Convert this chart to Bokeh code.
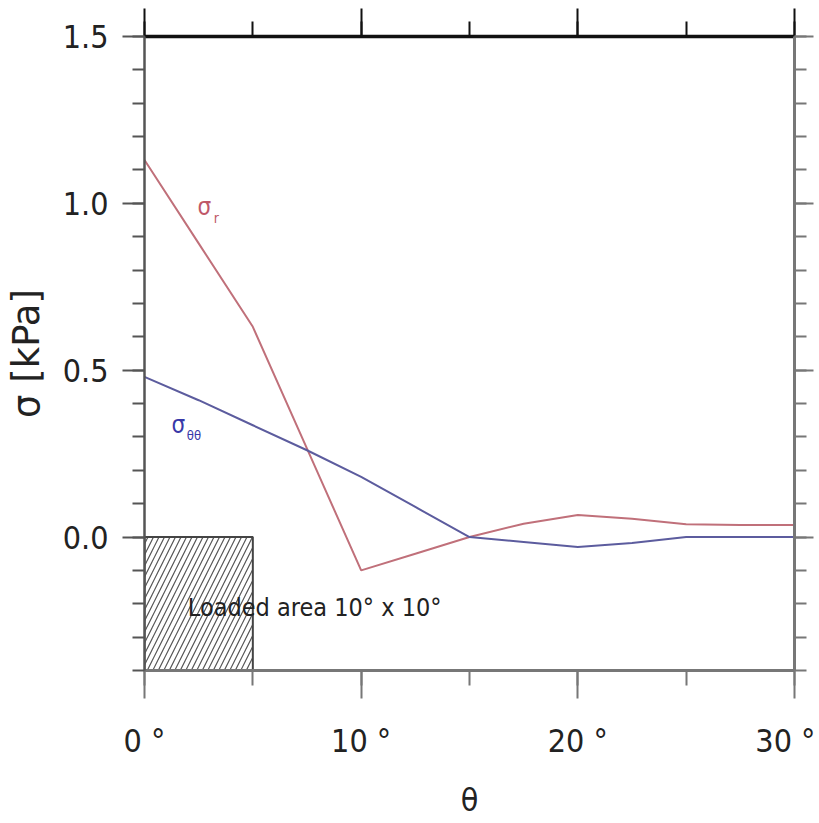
from bokeh.plotting import figure
from bokeh.models import LinearAxis, SingleIntervalTicker, Range1d, Label
from bokeh.embed import file_html
from bokeh.resources import INLINE

theta = [0, 2.5, 5, 7.5, 10, 12.5, 15, 17.5, 20, 22.5, 25, 27.5, 30]
sigma_r = [1.13, 0.88, 0.63, 0.265, -0.10, -0.05, 0.0, 0.04, 0.066, 0.055, 0.038, 0.036, 0.036]
sigma_tt = [0.48, 0.41, 0.335, 0.26, 0.18, 0.09, 0.0, -0.015, -0.03, -0.018, 0.0, 0.0, 0.0]
x_ticks = [0, 10, 20, 30]
x_tick_labels = ["0 °", "10 °", "20 °", "30 °"]
y_ticks = [0.0, 0.5, 1.0, 1.5]
y_tick_labels = ["0.0", "0.5", "1.0", "1.5"]
loaded_area = dict(left=[0], right=[5], bottom=[-0.4], top=[0])

FONT = "DejaVu Sans Condensed, Liberation Sans, sans-serif"
FONT_WIDE = "DejaVu Sans, Liberation Sans, sans-serif"

p = figure(width=815, height=822, output_backend="svg", toolbar_location=None,
           x_range=Range1d(0, 30), y_range=Range1d(-0.4, 1.5),
           x_axis_location=None, y_axis_location=None,
           min_border_left=144, min_border_right=21, min_border_top=36, min_border_bottom=152)
p.grid.visible = False
p.outline_line_color = None
p.background_fill_color = "white"

def style(ax, color, width, major_out, minor_out, labels):
    ax.axis_line_color = color
    ax.axis_line_width = width
    ax.major_tick_line_color = color
    ax.minor_tick_line_color = color
    ax.major_tick_line_width = 2
    ax.minor_tick_line_width = 2
    ax.major_tick_out = major_out
    ax.major_tick_in = 0
    ax.minor_tick_out = minor_out
    ax.minor_tick_in = 0
    if not labels:
        ax.major_label_text_font_size = "0px"
        ax.major_label_text_color = None
        ax.major_label_standoff = 0
        ax.axis_label_standoff = 0

xb = LinearAxis(ticker=SingleIntervalTicker(interval=10, num_minor_ticks=2))
style(xb, "#777777", 3, 28, 15, True)
xb.major_label_overrides = {t: l for t, l in zip(x_ticks, x_tick_labels)}
xb.major_label_text_font = FONT
xb.major_label_text_font_size = "32px"
xb.major_label_text_color = "#222222"
xb.major_label_standoff = 23
xb.axis_label = "θ"
xb.axis_label_text_font = FONT
xb.axis_label_text_font_size = "32px"
xb.axis_label_text_font_style = "normal"
xb.axis_label_text_color = "#222222"
xb.axis_label_standoff = 18
p.add_layout(xb, "below")

xt = LinearAxis(ticker=SingleIntervalTicker(interval=10, num_minor_ticks=2))
style(xt, "#111111", 3.5, 28, 15, False)
p.add_layout(xt, "above")

yl = LinearAxis(ticker=SingleIntervalTicker(interval=0.5, num_minor_ticks=5))
style(yl, "#555555", 2.5, 22, 12, True)
yl.major_label_overrides = {t: l for t, l in zip(y_ticks, y_tick_labels)}
yl.major_label_text_font = FONT
yl.major_label_text_font_size = "32px"
yl.major_label_text_color = "#222222"
yl.major_label_standoff = 14
yl.axis_label = "σ [kPa]"
yl.axis_label_text_font = FONT_WIDE
yl.axis_label_text_font_size = "37px"
yl.axis_label_text_font_style = "normal"
yl.axis_label_text_color = "#222222"
yl.axis_label_standoff = 12
p.add_layout(yl, "left")

yr = LinearAxis(ticker=SingleIntervalTicker(interval=0.5, num_minor_ticks=5))
style(yr, "#777777", 3, 19, 12, False)
p.add_layout(yr, "right")

# loaded area
p.quad(**loaded_area, fill_color="white", hatch_pattern="/", hatch_color="#555555",
       hatch_scale=11, hatch_weight=1.2, line_color="#444444", line_width=2)

p.line(theta, sigma_r, line_color="#c0707a", line_width=2)
p.line(theta, sigma_tt, line_color="#5c5c9e", line_width=2)

p.add_layout(Label(x=2.45, y=0.99, text="σ", text_font=FONT, text_font_size="24px",
                   text_color="#c05868", text_baseline="middle"))
p.add_layout(Label(x=3.2, y=0.955, text="r", text_font=FONT, text_font_size="14px",
                   text_color="#c05868", text_baseline="middle"))
p.add_layout(Label(x=1.25, y=0.335, text="σ", text_font=FONT, text_font_size="24px",
                   text_color="#3838a8", text_baseline="middle"))
p.add_layout(Label(x=1.95, y=0.305, text="θθ", text_font=FONT, text_font_size="13px",
                   text_color="#3838a8", text_baseline="middle"))
p.add_layout(Label(x=2.0, y=-0.21, text="Loaded area 10° x 10°", text_font=FONT,
                   text_font_size="25px", text_color="#222222", text_baseline="middle"))

open("out.html", "w").write(file_html(p, INLINE))
